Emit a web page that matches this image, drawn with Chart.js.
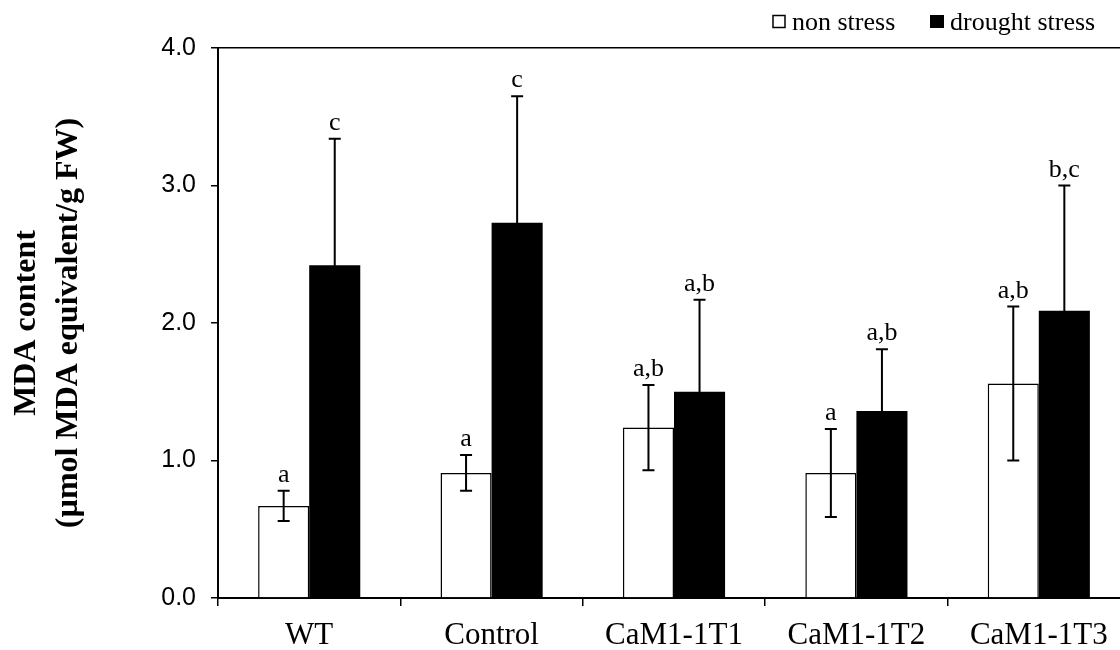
<!DOCTYPE html>
<html>
<head>
<meta charset="utf-8">
<script src="https://cdn.jsdelivr.net/npm/chart.js@4"></script>
<style>
html,body{margin:0;padding:0;background:#fff;overflow:hidden;width:1120px;height:650px;}
#wrap{position:absolute;left:0;top:0;width:1131px;height:650px;}
</style>
</head>
<body>
<div id="wrap"><canvas id="c"></canvas></div>
<script>
const categories = ['WT', 'Control', 'CaM1-1T1', 'CaM1-1T2', 'CaM1-1T3'];
const seriesNames = ['non stress', 'drought stress'];
const nonStress = [0.67, 0.91, 1.24, 0.91, 1.56];
const nonStressErr = [0.11, 0.13, 0.31, 0.32, 0.56];
const drought = [2.42, 2.73, 1.50, 1.36, 2.09];
const droughtErr = [0.92, 0.92, 0.67, 0.45, 0.91];
const nonLetters = ['a', 'a', 'a,b', 'a', 'a,b'];
const droughtLetters = ['c', 'c', 'a,b', 'a,b', 'b,c'];
const yTicks = [0, 1, 2, 3, 4];
const yTitle = ['MDA content', '(\u00b5mol MDA equivalent/g FW)'];

const errs = [nonStressErr, droughtErr];
const letters = [nonLetters, droughtLetters];

const errorBarPlugin = {
  id: 'errorBars',
  afterDatasetsDraw(chart) {
    const ctx = chart.ctx;
    const ys = chart.scales.y;
    ctx.save();
    chart.data.datasets.forEach((ds, di) => {
      const meta = chart.getDatasetMeta(di);
      meta.data.forEach((el, i) => {
        const v = ds.data[i], e = errs[di][i];
        const top = ys.getPixelForValue(v + e);
        const bot = ys.getPixelForValue(v - e);
        ctx.strokeStyle = '#000';
        ctx.lineWidth = 2;
        ctx.beginPath();
        ctx.moveTo(el.x, top); ctx.lineTo(el.x, bot);
        ctx.moveTo(el.x - 6, top); ctx.lineTo(el.x + 6, top);
        ctx.moveTo(el.x - 6, bot); ctx.lineTo(el.x + 6, bot);
        ctx.stroke();
        ctx.fillStyle = '#000';
        ctx.font = '26px "Liberation Serif"';
        ctx.textAlign = 'center';
        ctx.textBaseline = 'alphabetic';
        ctx.fillText(letters[di][i], el.x, top - 9);
      });
    });
    ctx.restore();
  }
};

const extrasPlugin = {
  id: 'extras',
  afterDraw(chart) {
    const ctx = chart.ctx;
    const ca = chart.chartArea;
    const cy = (ca.top + ca.bottom) / 2;
    const xs = [35, 77];
    yTitle.forEach((t, k) => {
      ctx.save();
      ctx.fillStyle = '#000';
      ctx.font = 'bold 32px "Liberation Serif"';
      ctx.textAlign = 'center';
      ctx.textBaseline = 'alphabetic';
      ctx.translate(xs[k], cy);
      ctx.rotate(-Math.PI / 2);
      ctx.fillText(t, 0, 0);
      ctx.restore();
    });
    // legend
    ctx.save();
    ctx.font = '26px "Liberation Serif"';
    ctx.textBaseline = 'alphabetic';
    ctx.textAlign = 'left';
    let x = 773;
    ctx.lineWidth = 1.5;
    ctx.strokeStyle = '#000';
    ctx.fillStyle = '#fff';
    ctx.fillRect(x, 15.5, 12, 12);
    ctx.strokeRect(x, 15.5, 12, 12);
    ctx.fillStyle = '#000';
    ctx.fillText(seriesNames[0], 792, 30);
    x = 930;
    ctx.fillRect(x, 15, 14, 13);
    ctx.fillText(seriesNames[1], 950, 30);
    ctx.restore();
  }
};

new Chart(document.getElementById('c'), {
  type: 'bar',
  data: {
    labels: categories,
    datasets: [
      { label: seriesNames[0], data: nonStress, backgroundColor: '#fff', borderColor: '#000', borderWidth: 1.5 },
      { label: seriesNames[1], data: drought, backgroundColor: '#000', borderColor: '#000', borderWidth: 0 }
    ]
  },
  options: {
    responsive: true,
    maintainAspectRatio: false,
    animation: false,
    layout: { padding: { top: 48, left: 0, right: 1, bottom: 0 } },
    datasets: { bar: { categoryPercentage: 0.56, barPercentage: 1.0 } },
    plugins: { legend: { display: false }, tooltip: { enabled: false } },
    scales: {
      x: {
        offset: true,
        grid: { offset: true, drawOnChartArea: false, tickLength: 8, color: '#000', lineWidth: 1.5 },
        border: { color: '#000', width: 2 },
        ticks: { color: '#000', font: { family: 'Liberation Serif', size: 31 }, padding: 11, maxRotation: 0, autoSkip: false },
        afterFit(s) { s.height = 52; }
      },
      y: {
        min: 0, max: 4,
        afterBuildTicks(s) { s.ticks = yTicks.map(v => ({ value: v })); },
        grid: {
          color: c => (c.tick && c.tick.value === 4) ? '#000' : 'rgba(0,0,0,0)',
          tickColor: '#000', tickLength: 7, lineWidth: 1.5
        },
        border: { color: '#000', width: 2 },
        ticks: { color: '#000', font: { family: 'Liberation Sans', size: 25 }, padding: 15, callback: v => Number(v).toFixed(1) },
        afterFit(s) { s.width = 218; }
      }
    }
  },
  plugins: [errorBarPlugin, extrasPlugin]
});
</script>
</body>
</html>
